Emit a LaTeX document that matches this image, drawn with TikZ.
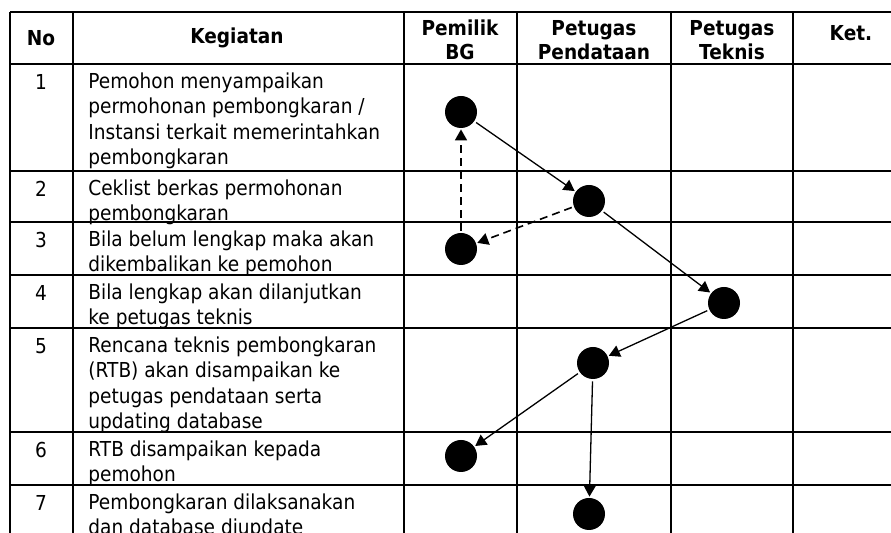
\documentclass[tikz,border=0pt]{standalone}
\usepackage{fontspec}
\setmainfont{DejaVu Sans}[FakeStretch=0.9]
\usetikzlibrary{arrows.meta}
\tikzset{
    tabline/.style={line width=1pt, black},
    head/.style={font=\fontsize{10.3}{12}\bfseries, align=center, inner sep=0pt},
    num/.style={font=\fontsize{10.3}{12}\selectfont, inner sep=0pt},
    keg/.style={font=\fontsize{10.3}{12.75}\selectfont, align=left, anchor=north west, inner sep=0pt},
    actor/.style={circle, fill=black, minimum size=16pt, inner sep=0pt},
    flow/.style={line width=0.65pt, -{Triangle[length=5.5pt, width=6pt]}, shorten <=1pt, shorten >=0.5pt},
    back/.style={flow, line width=0.8pt, dash pattern=on 4pt off 2.5pt},
}

\begin{document}
\begin{tikzpicture}[x=0.5pt, y=-0.5pt]
\useasboundingbox (0,0) rectangle (891,533);
\clip (0,0) rectangle (891,533);

% table
\draw[tabline] (10,12) -- (909,12);
\draw[tabline] (10,64) -- (909,64);
\draw[tabline] (10,171) -- (909,171);
\draw[tabline] (10,222) -- (909,222);
\draw[tabline] (10,275) -- (909,275);
\draw[tabline] (10,328) -- (909,328);
\draw[tabline] (10,432) -- (909,432);
\draw[tabline] (10,485) -- (909,485);
\draw[tabline] (10,12) -- (10,545);
\draw[tabline] (73,12) -- (73,545);
\draw[tabline] (404,12) -- (404,545);
\draw[tabline] (517,12) -- (517,545);
\draw[tabline] (671,12) -- (671,545);
\draw[tabline] (793,12) -- (793,545);

% header
\node[head] (hno) at (41,38) {No};
\node[head] (hkeg) at (237,38) {Kegiatan};
\node[head] (hpem) at (460,40) {Pemilik\\BG};
\node[head] (hpen) at (594,40) {Petugas\\Pendataan};
\node[head] (htek) at (732,40) {Petugas\\Teknis};
\node[head] (hket) at (851,33) {Ket.};

% rows
\node[num] (n1) at (41,82) {1};
\node[num] (n2) at (41,189) {2};
\node[num] (n3) at (41,240) {3};
\node[num] (n4) at (41,293) {4};
\node[num] (n5) at (41,346) {5};
\node[num] (n6) at (41,450) {6};
\node[num] (n7) at (41,503) {7};

\node[keg] (k1) at (88,72) {Pemohon menyampaikan\\permohonan pembongkaran /\\Instansi terkait memerintahkan\\pembongkaran};
\node[keg] (k2) at (88,179) {Ceklist berkas permohonan\\pembongkaran};
\node[keg] (k3) at (88,230) {Bila belum lengkap maka akan\\dikembalikan ke pemohon};
\node[keg] (k4) at (88,283) {Bila lengkap akan dilanjutkan\\ke petugas teknis};
\node[keg] (k5) at (88,336) {Rencana teknis pembongkaran\\(RTB) akan disampaikan ke\\petugas pendataan serta\\updating database};
\node[keg] (k6) at (88,440) {RTB disampaikan kepada\\pemohon};
\node[keg] (k7) at (88,493) {Pembongkaran dilaksanakan\\dan database diupdate};

% flow
\node[actor] (c1) at (461,112) {};
\node[actor] (c2) at (589,201) {};
\node[actor] (c3) at (461,249) {};
\node[actor] (c4) at (724,303) {};
\node[actor] (c5) at (593,363) {};
\node[actor] (c6) at (461,456) {};
\node[actor] (c7) at (589,514) {};

\draw[flow] (c1) -- (c2);
\draw[back] (c2) -- (c3);
\draw[back] (c3) -- (c1);
\draw[flow] (c2) -- (c4);
\draw[flow] (c4) -- (c5);
\draw[flow] (c5) -- (c6);
\draw[flow] (c5) -- (c7);

\end{tikzpicture}
\end{document}
